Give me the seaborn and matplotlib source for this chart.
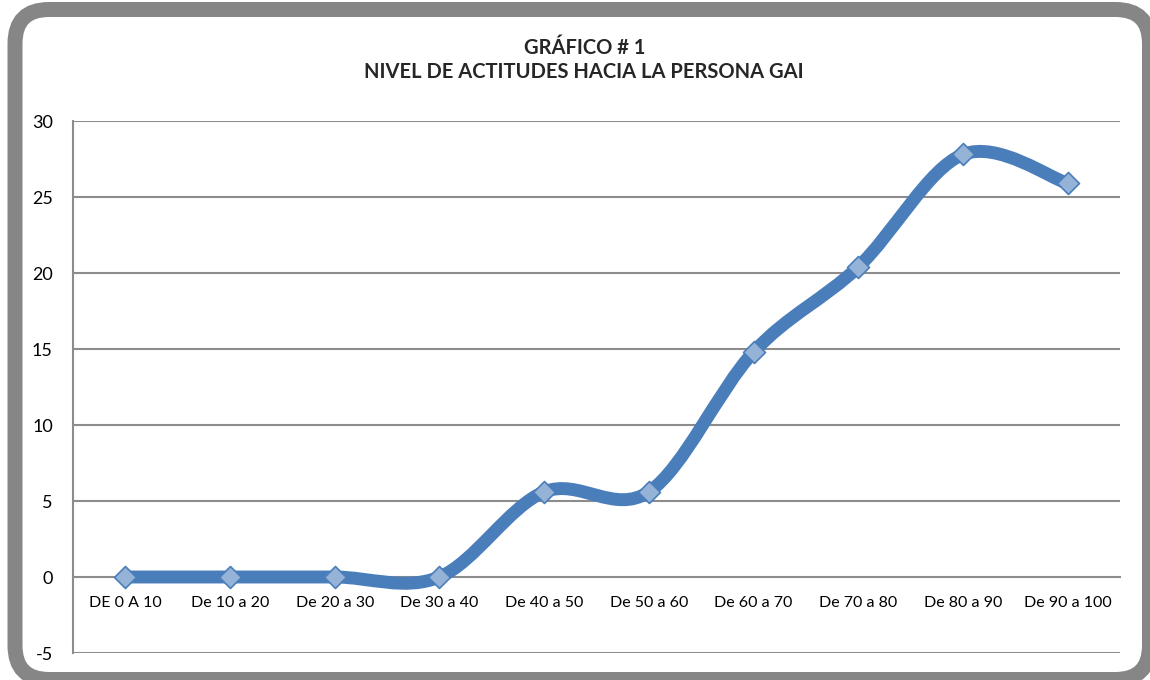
import matplotlib
matplotlib.use("Agg")
import matplotlib.pyplot as plt
from matplotlib.path import Path
from matplotlib.patches import PathPatch, FancyBboxPatch
from matplotlib.ticker import FixedLocator
import numpy as np
import pandas as pd
import seaborn as sns

CATEGORIES = ["DE 0 A 10", "De 10 a 20", "De 20 a 30", "De 30 a 40", "De 40 a 50",
              "De 50 a 60", "De 60 a 70", "De 70 a 80", "De 80 a 90", "De 90 a 100"]
VALUES = [0, 0, 0, 0, 5.6, 5.6, 14.8, 20.4, 27.8, 25.9]
Y_TICKS = [-5, 0, 5, 10, 15, 20, 25, 30]
TITLE = "GRÁFICO # 1\nNIVEL DE ACTITUDES HACIA LA PERSONA GAI"

LINE_BLUE = "#4A7EBB"
MARKER_FACE = "#95B3D7"
GRID_GREY = "#8C8C8C"

sns.set_theme(style="white")
plt.rcParams["font.family"] = ["Lato", "DejaVu Sans"]
plt.rcParams["axes.unicode_minus"] = False

df = pd.DataFrame({"x": np.arange(len(CATEGORIES)), "y": VALUES, "cat": CATEGORIES})


def smooth_path(xs, ys):
    # Excel-like smoothed line: cubic Bezier, control points at 1/6 of neighbour span
    pts = np.column_stack([xs, ys]).astype(float)
    n = len(pts)
    verts = [pts[0]]
    codes = [Path.MOVETO]
    for i in range(n - 1):
        p_prev = pts[i - 1] if i > 0 else pts[i]
        p_next2 = pts[i + 2] if i + 2 < n else pts[i + 1]
        c1 = pts[i] + (pts[i + 1] - p_prev) / 6.0
        c2 = pts[i + 1] - (p_next2 - pts[i]) / 6.0
        verts += [c1, c2, pts[i + 1]]
        codes += [Path.CURVE4] * 3
    return Path(verts, codes)


fig = plt.figure(figsize=(11.5, 6.8), dpi=100)
ax = fig.add_axes([73 / 1150, 1 - 653 / 680, (1120 - 73) / 1150, (653 - 121) / 680])

ax.add_patch(PathPatch(smooth_path(df["x"], df["y"]), fill=False, edgecolor=LINE_BLUE,
                       lw=9.3, capstyle="round", joinstyle="round", zorder=3))
sns.scatterplot(data=df, x="x", y="y", ax=ax, marker="D", s=125, color=MARKER_FACE,
                edgecolor=LINE_BLUE, linewidth=1.2, zorder=4, legend=False)

ax.set_xlim(-0.5, len(CATEGORIES) - 0.5)
ax.set_ylim(-5, 30)
ax.set_yticks(Y_TICKS)
ax.set_xticks(df["x"])
ax.set_xticklabels(CATEGORIES)
ax.xaxis.set_minor_locator(FixedLocator(np.arange(-0.5, len(CATEGORIES), 1.0)))

for y in Y_TICKS:
    if y != 0:
        ax.axhline(y, color=GRID_GREY, lw=1.5, zorder=1)

for side in ["top", "right"]:
    ax.spines[side].set_visible(False)
ax.spines["bottom"].set_position(("data", 0))
for side in ["left", "bottom"]:
    ax.spines[side].set_color(GRID_GREY)
    ax.spines[side].set_linewidth(1.5)
    ax.spines[side].set_zorder(1)

ax.tick_params(axis="x", which="major", length=0, pad=14, labelsize=11.5, colors="black")
ax.tick_params(axis="x", which="minor", length=4.5, width=1.5, color=GRID_GREY, direction="out")
ax.tick_params(axis="y", length=4.5, width=1.5, color=GRID_GREY, direction="out",
               pad=10, labelsize=13, labelcolor="black")
ax.set_xlabel("")
ax.set_ylabel("")

fig.text(0.508, 1 - 60 / 680, TITLE, ha="center", va="center", fontsize=14.5,
         fontweight="bold", linespacing=1.3)

frame = FancyBboxPatch((15, 0.5), 1134.5, 670, boxstyle="round,pad=0,rounding_size=34",
                       transform=None, fill=False, edgecolor="#868686", lw=10.8)
fig.patches.append(frame)

fig.savefig("out.png", dpi=100)
